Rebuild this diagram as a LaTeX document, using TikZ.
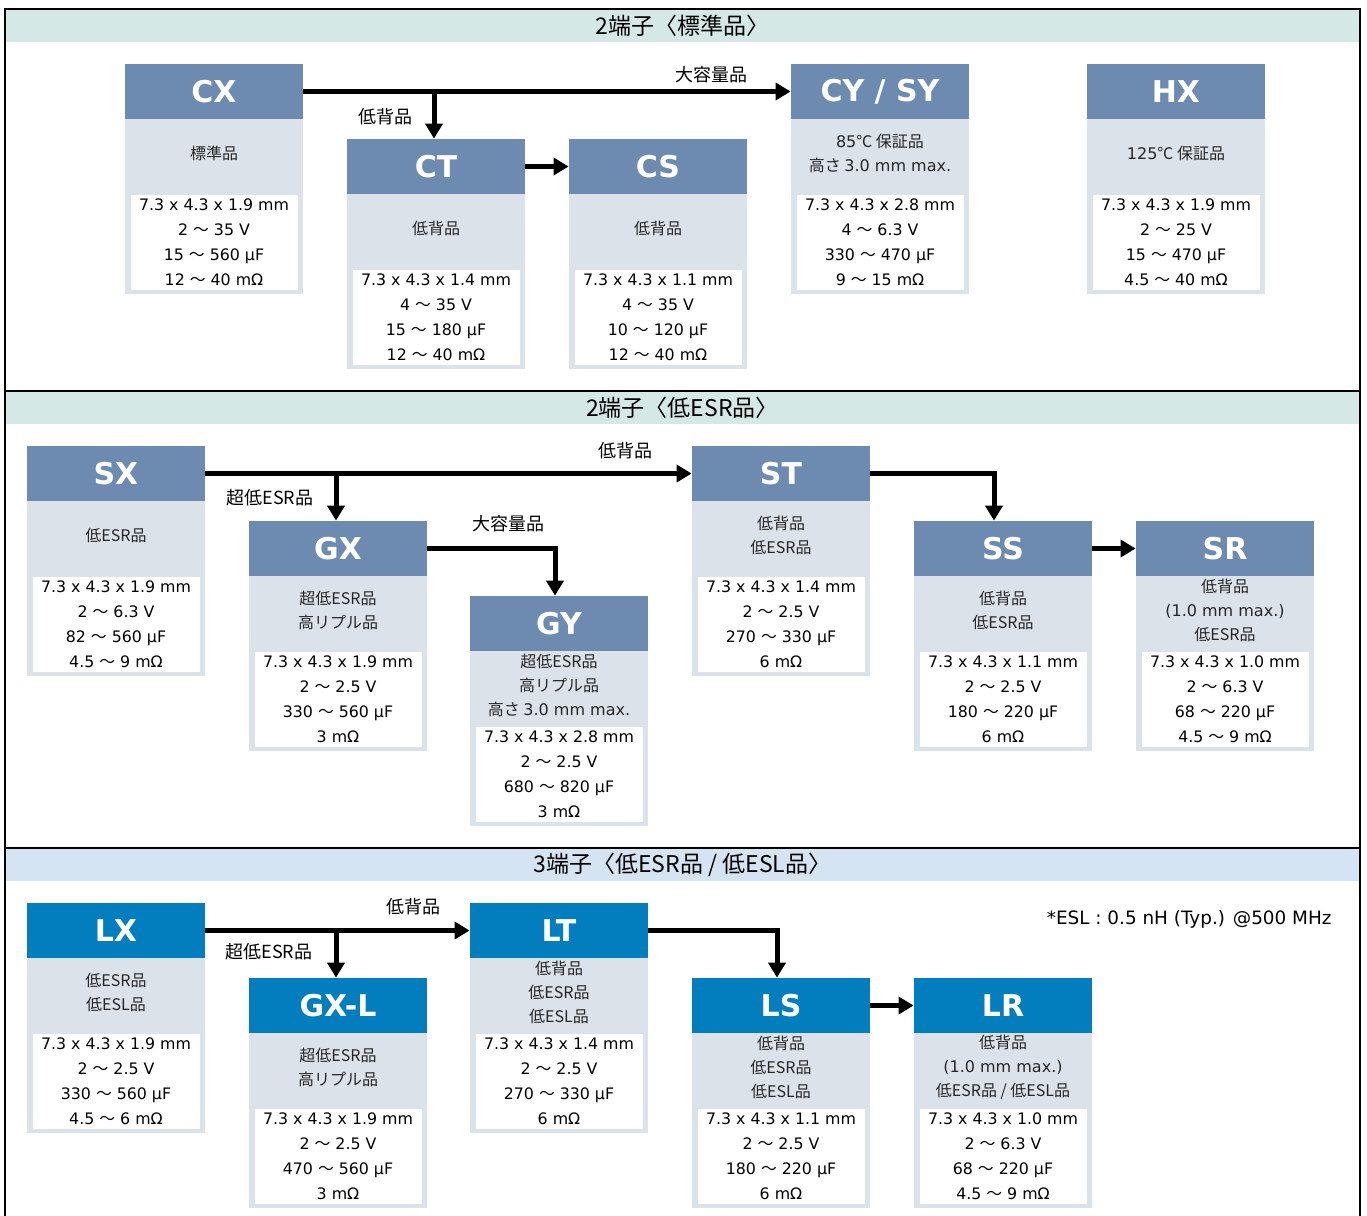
\documentclass[tikz,border=0pt]{standalone}
\usepackage{fontspec}
\setmainfont{DejaVu Sans}
\newfontfamily\jp{Noto Sans CJK JP}
\usetikzlibrary{arrows.meta}

\definecolor{hdrgray}{RGB}{109,139,177}
\definecolor{hdrblue}{RGB}{2,125,190}
\definecolor{bodygray}{RGB}{220,226,234}
\definecolor{bandteal}{RGB}{212,233,230}
\definecolor{bandblue}{RGB}{213,228,242}

\newcommand\wave{{\jp ～}}
\newcommand\lat[1]{{\rmfamily #1}}
% #1 name, #2 left, #3 top, #4 header colour, #5 title, #6 features, #7 ratings
\newcommand\prodbox[7]{%
    \fill[bodygray] (#2,#3+55) rectangle ++(178,175);
    \node[hdr,fill=#4] (#1) at (#2+89,#3+27.5) {#5};
    \node[desc] (#1-d) at (#2+89,#3+89) {#6};
    \fill[white] (#2+6,#3+131) rectangle ++(167,95);
    \node[spec] (#1-s) at (#2+89,#3+178.5) {#7};
}

\begin{document}
\begin{tikzpicture}[x=0.5pt,y=-0.5pt,
    hdr/.style={minimum width=89pt,minimum height=27.5pt,inner sep=0pt,text=white,font=\bfseries\fontsize{15}{18}\selectfont},
    desc/.style={align=center,inner sep=0pt,text=black!85,font=\jp\fontsize{8}{12}\selectfont},
    spec/.style={align=center,inner sep=0pt,font=\fontsize{7.9}{12.5}\selectfont},
    band/.style={minimum width=676.5pt,minimum height=16pt,inner sep=0pt,font=\jp\fontsize{11.5}{14}\selectfont},
    lbl/.style={inner sep=0pt,font=\jp\fontsize{9}{11}\selectfont},
    arr/.style={line width=2.5pt,-{Triangle[length=7.5pt,width=8.5pt]}}]
    \useasboundingbox (0,0) rectangle (1367,1216);

    \node[band,fill=bandteal] (sec1) at (682.5,25.5) {2端子〈標準品〉};
    \node[band,fill=bandteal] (sec2) at (682.5,408) {2端子〈低ESR品〉};
    \node[band,fill=bandblue] (sec3) at (682.5,865) {3端子〈低ESR品 / 低ESL品〉};
    \draw[line width=0.75pt] (5,1216) -- (5,9) -- (1360,9) -- (1360,1216);
    \draw[line width=0.75pt] (5,391) -- (1360,391) (5,848) -- (1360,848);

    \prodbox{CX}{125}{64}{hdrgray}{CX}{標準品}{7.3 x 4.3 x 1.9 mm\\2 \wave{} 35 V\\15 \wave{} 560 µF\\12 \wave{} 40 mΩ}
    \prodbox{CT}{347}{139}{hdrgray}{CT}{低背品}{7.3 x 4.3 x 1.4 mm\\4 \wave{} 35 V\\15 \wave{} 180 µF\\12 \wave{} 40 mΩ}
    \prodbox{CS}{569}{139}{hdrgray}{CS}{低背品}{7.3 x 4.3 x 1.1 mm\\4 \wave{} 35 V\\10 \wave{} 120 µF\\12 \wave{} 40 mΩ}
    \prodbox{CYSY}{791}{64}{hdrgray}{CY / SY}{\lat{85}℃ 保証品\\高さ \lat{3.0 mm max.}}{7.3 x 4.3 x 2.8 mm\\4 \wave{} 6.3 V\\330 \wave{} 470 µF\\9 \wave{} 15 mΩ}
    \prodbox{HX}{1087}{64}{hdrgray}{HX}{\lat{125}℃ 保証品}{7.3 x 4.3 x 1.9 mm\\2 \wave{} 25 V\\15 \wave{} 470 µF\\4.5 \wave{} 40 mΩ}

    \draw[arr] (CX.east) -- (CYSY.west);
    \draw[arr] (CX.east -| CT.north) ++(-2,0) -- ([xshift=-1pt]CT.north);
    \draw[arr] (CT.east) -- (CS.west);
    \node[lbl] (cap1) at (711,75) {大容量品};
    \node[lbl] (low1) at (385,117) {低背品};

    \prodbox{SX}{27}{446}{hdrgray}{SX}{低ESR品}{7.3 x 4.3 x 1.9 mm\\2 \wave{} 6.3 V\\82 \wave{} 560 µF\\4.5 \wave{} 9 mΩ}
    \prodbox{GX}{249}{521}{hdrgray}{GX}{超低ESR品\\高リプル品}{7.3 x 4.3 x 1.9 mm\\2 \wave{} 2.5 V\\330 \wave{} 560 µF\\3 mΩ}
    \prodbox{GY}{470}{596}{hdrgray}{GY}{超低ESR品\\高リプル品\\高さ \lat{3.0 mm max.}}{7.3 x 4.3 x 2.8 mm\\2 \wave{} 2.5 V\\680 \wave{} 820 µF\\3 mΩ}
    \prodbox{ST}{692}{446}{hdrgray}{ST}{低背品\\低ESR品}{7.3 x 4.3 x 1.4 mm\\2 \wave{} 2.5 V\\270 \wave{} 330 µF\\6 mΩ}
    \prodbox{SS}{914}{521}{hdrgray}{SS}{低背品\\低ESR品}{7.3 x 4.3 x 1.1 mm\\2 \wave{} 2.5 V\\180 \wave{} 220 µF\\6 mΩ}
    \prodbox{SR}{1136}{521}{hdrgray}{SR}{低背品\\\lat{(1.0 mm max.)}\\低ESR品}{7.3 x 4.3 x 1.0 mm\\2 \wave{} 6.3 V\\68 \wave{} 220 µF\\4.5 \wave{} 9 mΩ}

    \draw[arr] (SX.east) -- (ST.west);
    \draw[arr] (SX.east -| GX.north) ++(-2,0) -- ([xshift=-1pt]GX.north);
    \draw[arr] (GX.east) -| ([xshift=-2pt]GY.north);
    \draw[arr] (ST.east) -| ([xshift=-4.5pt]SS.north);
    \draw[arr] (SS.east) -- (SR.west);
    \node[lbl] (low2) at (625,451) {低背品};
    \node[lbl] (ulow2) at (270,498) {超低ESR品};
    \node[lbl] (cap2) at (508,524) {大容量品};

    \prodbox{LX}{27}{903}{hdrblue}{LX}{低ESR品\\低ESL品}{7.3 x 4.3 x 1.9 mm\\2 \wave{} 2.5 V\\330 \wave{} 560 µF\\4.5 \wave{} 6 mΩ}
    \prodbox{GXL}{249}{978}{hdrblue}{GX-L}{超低ESR品\\高リプル品}{7.3 x 4.3 x 1.9 mm\\2 \wave{} 2.5 V\\470 \wave{} 560 µF\\3 mΩ}
    \prodbox{LT}{470}{903}{hdrblue}{LT}{低背品\\低ESR品\\低ESL品}{7.3 x 4.3 x 1.4 mm\\2 \wave{} 2.5 V\\270 \wave{} 330 µF\\6 mΩ}
    \prodbox{LS}{692}{978}{hdrblue}{LS}{低背品\\低ESR品\\低ESL品}{7.3 x 4.3 x 1.1 mm\\2 \wave{} 2.5 V\\180 \wave{} 220 µF\\6 mΩ}
    \prodbox{LR}{914}{978}{hdrblue}{LR}{低背品\\\lat{(1.0 mm max.)}\\低ESR品 / 低ESL品}{7.3 x 4.3 x 1.0 mm\\2 \wave{} 6.3 V\\68 \wave{} 220 µF\\4.5 \wave{} 9 mΩ}

    \draw[arr] (LX.east) -- (LT.west);
    \draw[arr] (LX.east -| GXL.north) ++(-2,0) -- ([xshift=-1pt]GXL.north);
    \draw[arr] (LT.east) -| ([xshift=-2pt]LS.north);
    \draw[arr] (LS.east) -- (LR.west);
    \node[lbl] (low3) at (413,907) {低背品};
    \node[lbl] (ulow3) at (269,952) {超低ESR品};
    \node[anchor=east,inner sep=0pt,font=\fontsize{9.2}{11}\selectfont] (esl) at (1332,919) {*ESL : 0.5 nH (Typ.) @500 MHz};
\end{tikzpicture}
\end{document}
